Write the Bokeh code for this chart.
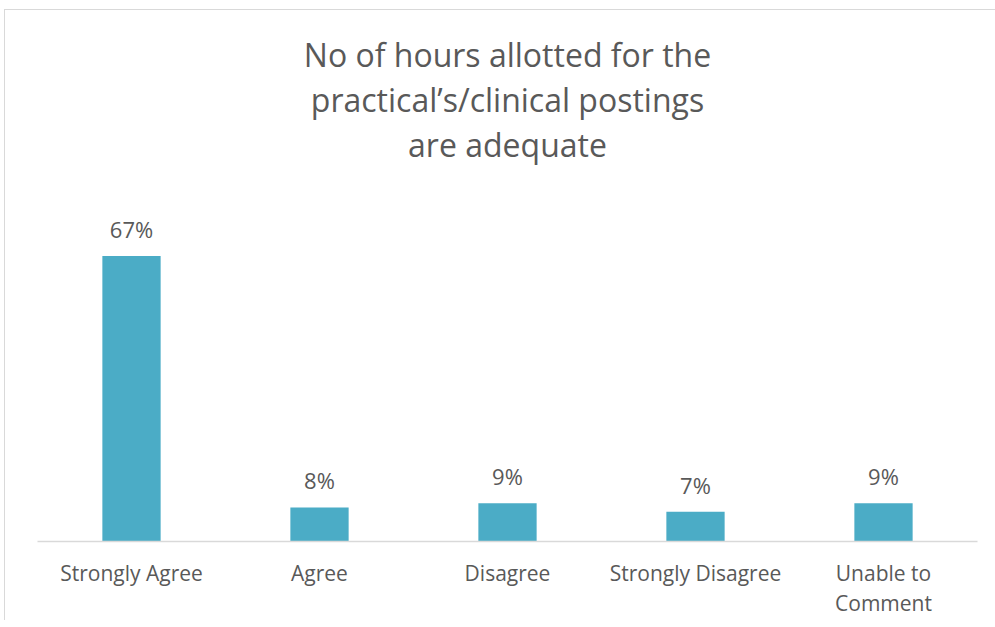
from bokeh.plotting import figure
from bokeh.models import ColumnDataSource, LabelSet, FactorRange, Range1d, Title
from bokeh.core.properties import value
from bokeh.embed import file_html
from bokeh.resources import INLINE

categories = ["Strongly Agree", "Agree", "Disagree", "Strongly Disagree", "Unable to\nComment"]
values = [67, 8, 9, 7, 9]
value_labels = ["67%", "8%", "9%", "7%", "9%"]
title_lines = ["No of hours allotted for the", "practical\u2019s/clinical postings", "are adequate"]

FONT = "Open Sans"
TEXT_COLOR = "#595959"
BAR_COLOR = "#4BACC6"

source = ColumnDataSource(dict(cat=categories, val=values, lab=value_labels))

p = figure(
    x_range=FactorRange(*categories, range_padding=0),
    y_range=Range1d(0, 80),
    frame_width=940, frame_height=341,
    output_backend="svg", toolbar_location=None,
    min_border_left=32, min_border_right=18, min_border_top=190, min_border_bottom=70,
)
p.margin = (9, 0, 0, 4)
p.styles = {"border-left": "1px solid #D9D9D9", "border-top": "1px solid #D9D9D9"}
p.outline_line_color = None
p.background_fill_color = "white"
p.border_fill_color = "white"
p.xgrid.visible = False
p.ygrid.visible = False
p.yaxis.visible = False
p.title = None

# spacer between the title block and the plot frame
p.add_layout(Title(text=" ", text_font_size="1px", standoff=32), "above")
# titles added bottom line first (nearest the frame)
for line in reversed(title_lines):
    p.add_layout(Title(text=line, align="center", text_font=FONT,
                       text_font_size="32px", text_font_style="normal",
                       text_color=TEXT_COLOR, standoff=0), "above")

p.vbar(x="cat", top="val", width=0.31, source=source, color=BAR_COLOR, line_color=None)

xa = p.xaxis[0]
xa.axis_line_color = "#D9D9D9"
xa.axis_line_width = 1.5
xa.major_tick_line_color = None
xa.minor_tick_line_color = None
xa.major_tick_out = 0
xa.major_tick_in = 0
xa.major_label_standoff = 17
xa.major_label_text_font = FONT
xa.major_label_text_font_size = "21px"
xa.major_label_text_color = TEXT_COLOR
xa.major_label_text_line_height = 1.1

labels = LabelSet(x="cat", y="val", text="lab", source=source, y_offset=27,
                  text_align="center", text_baseline="middle",
                  text_font=value(FONT), text_font_size=value("22px"),
                  text_color=value(TEXT_COLOR))
p.add_layout(labels)

open("out.html", "w").write(file_html(p, INLINE))
